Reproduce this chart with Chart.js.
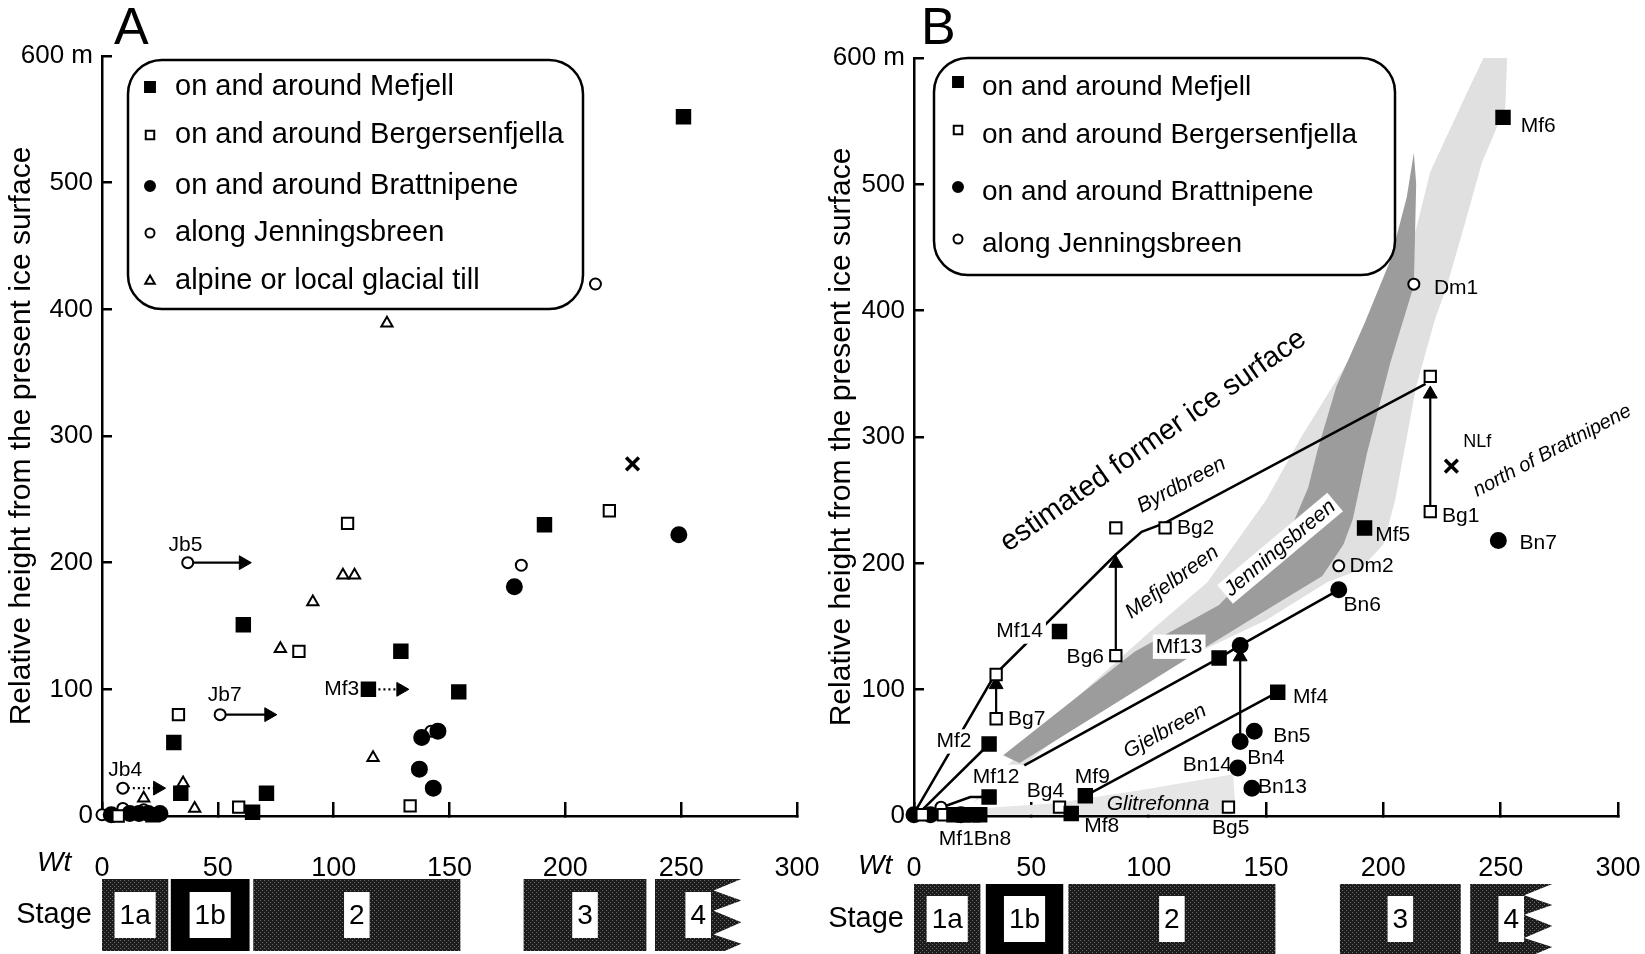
<!DOCTYPE html>
<html>
<head>
<meta charset="utf-8">
<script src="https://cdn.jsdelivr.net/npm/chart.js@4.4.1/dist/chart.umd.min.js"></script>
<style>
  html, body { margin: 0; padding: 0; background: #fff; width: 1645px; height: 954px; overflow: hidden; }
  canvas, .txt { position: absolute; }
  .txt { font-family: 'Liberation Sans', Arial, sans-serif; line-height: 1; color: #000; }
  .wt { font-style: italic; font-size: 28px; }
</style>
</head>
<body>
<canvas id="mainA" width="820" height="900" style="left:0;top:0"></canvas>
<canvas id="mainB" width="825" height="900" style="left:820px;top:0"></canvas>
<canvas id="stageA" width="820" height="78" style="left:0;top:876px"></canvas>
<canvas id="stageB" width="825" height="74" style="left:820px;top:880px"></canvas>
<div class="txt" style="left:114px;top:0;font-size:52px">A</div>
<div class="txt" style="left:921px;top:0;font-size:52px">B</div>
<div class="txt wt" style="left:37px;top:848px">Wt</div>
<div class="txt wt" style="left:858px;top:851px">Wt</div>
<script>
const FONT = "'Liberation Sans',Arial,sans-serif";

// оси
const xTicks = [0, 50, 100, 150, 200, 250, 300];
const yTicks = [0, 100, 200, 300, 400, 500, 600];

// ---------- панель A: [Wt, высота м] ----------
const mefjellA = [[251, 552], [191, 230], [61, 151], [129, 130], [115, 100], [154, 98], [31, 58], [34, 18], [71, 18], [65, 3], [22, 1]];
const bergersenA = [[106, 231], [219, 241], [85, 130], [33, 80], [59, 7], [133, 8], [7, 0]];
const brattnipeneA = [[249, 222], [178, 181], [138, 62], [145, 67], [137, 37], [143, 22], [4, 1], [12, 2], [16, 2], [20, 2], [25, 2]];
const jenningsA = [[213, 420], [181, 198], [37, 200], [51, 80], [9, 22], [0, 1], [9, 6], [18, 5], [142, 67]];
const tillA = [[123, 389], [104, 190], [109, 190], [91, 169], [77, 132], [117, 46], [35, 26], [18, 14], [40, 6]];
const crossA = [[229, 278]];
const arrowsA = [
  { from: [37, 200], to: [61, 200], dashed: false },
  { from: [51, 80], to: [72, 80], dashed: false },
  { from: [9, 22], to: [24, 22], dashed: true },
  { from: [115, 100], to: [129, 100], dashed: true },
];

// ---------- панель B ----------
const mefjellB = [[251, 553], [192, 228], [155, 98], [130, 125], [62, 146], [32, 57], [32, 15], [73, 16], [67, 2], [17, 1], [21, 1], [25, 1], [28, 1]];
const bergersenB = [[220, 348], [220, 241], [86, 228], [107, 228], [86, 127], [35, 112], [35, 77], [62, 7], [134, 7], [3.5, 1], [12.5, 1]];
const brattnipeneB = [[249, 218], [181, 179], [139, 135], [145, 67], [139, 59], [138, 38], [144, 22], [0, 1], [7, 1], [20, 1]];
const jenningsB = [[213, 421], [181, 198], [11.5, 7]];
const crossB = [[229, 277]];

const iceSurfaceLine = [[0, 2], [34.5, 112], [86, 207], [97, 225], [107, 232], [218, 342]];
const mf2Line = [[2, 2], [32, 57]];
const mf12Line = [[6, 3], [24, 15], [31, 15]];
const jenningsLine = [[47, 40], [130, 125], [139, 135], [181, 179]];
const gjelbreenLine = [[73, 16], [155, 98]];
const arrowsB = [
  { from: [35, 78], to: [35, 104] },
  { from: [86, 127], to: [86, 200] },
  { from: [139, 59], to: [139, 126] },
  { from: [220, 241], to: [220, 334] },
];

// затенённые полосы ледников
const lightBand = [[25, 10], [45, 50], [70, 95], [100, 145], [125, 185], [150, 250], [165, 300], [185, 360], [200, 410], [212, 450], [220, 510], [235, 570], [246, 613], [253, 613], [252, 561], [242, 517], [234, 464], [227, 419], [222, 393], [214, 340], [209, 290], [205, 250], [200, 215], [190, 195], [176, 185], [150, 155], [116, 125], [70, 75], [40, 30]];
const darkBand = [[38, 48], [70, 95], [94, 130], [130, 167], [160, 225], [168, 260], [172, 290], [180, 340], [192, 390], [203, 440], [210, 490], [213, 525], [214, 500], [213, 420], [203, 359], [193, 287], [187, 235], [183, 215], [174, 190], [143, 155], [116, 124], [45, 42]];
const glitrefonnaBand = [[20, 1], [20, 5], [60, 10], [95, 20], [120, 28], [136, 33], [137, 5], [135, 1]];

// стадии
const stageNames = ["1a", "1b", "2", "3", "4"];
const stageStartA = [0, 29.7, 65.3, 182, 238.7];
const stageEndA = [28.6, 63.7, 154.7, 235, 276];
const stageStartB = [0, 30.6, 65.8, 181.5, 237];
const stageEndB = [28.3, 63.6, 154, 233, 272];

const legendLabels = ["on and around Mefjell", "on and around Bergersenfjella", "on and around Brattnipene", "along Jenningsbreen", "alpine or local glacial till"];

function pts(arr) {
  return arr.map((p) => ({ x: p[0], y: p[1] }));
}

function markerSet(arr, style, filled, r) {
  return {
    type: "scatter",
    data: pts(arr),
    pointStyle: style,
    pointRadius: r,
    pointBackgroundColor: filled ? "#000" : "#fff",
    pointBorderColor: "#000",
    pointBorderWidth: style === "crossRot" ? 3.5 : 2,
    clip: false,
    order: 0,
  };
}

function lineSet(arr) {
  return { type: "line", data: pts(arr), borderColor: "#000", borderWidth: 2.5, pointRadius: 0, fill: false, tension: 0, clip: false, order: 2 };
}

function arrowSet(a, rot) {
  return {
    type: "line",
    data: pts([a.from, a.to]),
    borderColor: "#000",
    borderWidth: 2.2,
    borderDash: a.dashed ? [2, 3] : [],
    pointRadius: [0, 8],
    pointStyle: "triangle",
    pointRotation: [0, rot],
    pointBackgroundColor: "#000",
    pointBorderColor: "#000",
    pointBorderWidth: 1,
    tension: 0,
    clip: false,
    order: 1,
  };
}

function bandSet(arr, color, order) {
  return { type: "line", data: pts(arr), borderWidth: 0, borderColor: "rgba(0,0,0,0)", backgroundColor: color, fill: "shape", pointRadius: 0, tension: 0, clip: false, order: order };
}

// подписи точек и ледников
function lab(text, x, y, o) {
  return Object.assign({ text, x, y, size: 21, italic: false, align: "center", rot: 0, bg: false }, o || {});
}

function labelPlugin(items) {
  return {
    id: "pointLabels",
    afterDatasetsDraw(chart) {
      const { ctx, scales } = chart;
      items.forEach((it) => {
        const px = scales.x.getPixelForValue(it.x);
        const py = scales.y.getPixelForValue(it.y);
        ctx.save();
        ctx.translate(px, py);
        if (it.rot) ctx.rotate((it.rot * Math.PI) / 180);
        ctx.font = (it.italic ? "italic " : "") + it.size + "px " + FONT;
        ctx.textAlign = it.align;
        ctx.textBaseline = "middle";
        if (it.bg) {
          const w = ctx.measureText(it.text).width;
          const x0 = it.align === "right" ? -w : it.align === "left" ? 0 : -w / 2;
          ctx.fillStyle = "#fff";
          ctx.fillRect(x0 - 3, -it.size * 0.58, w + 6, it.size * 1.16);
        }
        ctx.fillStyle = "#000";
        ctx.fillText(it.text, 0, 0);
        ctx.restore();
      });
    },
  };
}

// легенда в скруглённой рамке
function legendPlugin(box, rows, markerX, textX, font, markers, shift) {
  return {
    id: "boxLegend",
    afterDraw(chart) {
      const ctx = chart.ctx;
      ctx.save();
      ctx.lineWidth = 2.5;
      ctx.strokeStyle = "#000";
      ctx.beginPath();
      ctx.roundRect(box.x, box.y, box.w, box.h, 34);
      ctx.stroke();
      markers.forEach((m, i) => {
        ctx.lineWidth = 2;
        ctx.fillStyle = m.filled ? "#000" : "#fff";
        ctx.strokeStyle = "#000";
        Chart.helpers.drawPoint(ctx, { pointStyle: m.style, radius: m.r, borderWidth: 2, rotation: 0 }, markerX, rows[i] + shift);
        ctx.fillStyle = "#000";
        ctx.font = font;
        ctx.textAlign = "left";
        ctx.textBaseline = "middle";
        ctx.fillText(legendLabels[i], textX, rows[i]);
      });
      ctx.restore();
    },
  };
}

function scalesFor(yWidth) {
  return {
    x: {
      type: "linear",
      min: 0,
      max: 300,
      afterBuildTicks: (s) => { s.ticks = xTicks.map((v) => ({ value: v })); },
      afterFit: (s) => { s.height = 70; s.paddingLeft = 0; s.paddingRight = 0; },
      border: { display: true, color: "#000", width: 2.5 },
      grid: { drawOnChartArea: false, tickLength: -14, color: "#000", lineWidth: 2.5 },
      ticks: { color: "#000", padding: 50, maxRotation: 0, autoSkip: false, font: { family: FONT, size: 27 } },
    },
    y: {
      type: "linear",
      min: 0,
      max: 600,
      afterBuildTicks: (s) => { s.ticks = yTicks.map((v) => ({ value: v })); },
      afterFit: (s) => { s.width = yWidth; s.paddingTop = 0; s.paddingBottom = 0; },
      border: { display: true, color: "#000", width: 2.5 },
      grid: { drawOnChartArea: false, tickLength: -10, color: "#000", lineWidth: 2.5 },
      ticks: { color: "#000", padding: 19, font: { family: FONT, size: 26 }, callback: (v) => (v === 600 ? "600 m" : v) },
      title: { display: true, text: "Relative height from the present ice surface", color: "#000", font: { family: FONT, size: 30 }, padding: { top: 4, bottom: 0 } },
    },
  };
}

const baseOptions = (pad, yWidth) => ({
  responsive: false,
  animation: false,
  events: [],
  layout: { padding: pad },
  scales: scalesFor(yWidth),
  plugins: { legend: { display: false }, tooltip: { enabled: false } },
});

// ---------- график A ----------
const labelsA = [
  lab("Jb5", 36, 214),
  lab("Jb7", 53, 95),
  lab("Jb4", 10, 36),
  lab("Mf3", 111, 100, { align: "right" }),
];

new Chart(document.getElementById("mainA"), {
  type: "scatter",
  data: {
    datasets: [
      markerSet(mefjellA, "rect", true, 9.5),
      markerSet(bergersenA, "rect", false, 8),
      markerSet(brattnipeneA, "circle", true, 7.5),
      markerSet(jenningsA, "circle", false, 5.5),
      markerSet(tillA, "triangle", false, 6.5),
      markerSet(crossA, "crossRot", false, 9),
      ...arrowsA.map((a) => arrowSet(a, 90)),
    ],
  },
  options: baseOptions({ top: 56, right: 23, bottom: 14, left: 0 }, 102),
  plugins: [
    labelPlugin(labelsA),
    legendPlugin({ x: 128, y: 60, w: 455, h: 249 }, [87, 135, 186, 233, 281], 150, 175, "29px " + FONT, [
      { style: "rect", filled: true, r: 7 },
      { style: "rect", filled: false, r: 6 },
      { style: "circle", filled: true, r: 5 },
      { style: "circle", filled: false, r: 4.5 },
      { style: "triangle", filled: false, r: 5.5 },
    ], 0),
  ],
});

// ---------- график B ----------
const labelsB = [
  lab("Mf6", 266, 546), lab("Dm1", 231, 418), lab("NLf", 240, 296, { size: 18 }),
  lab("Bg1", 233, 237), lab("Bn7", 266, 216), lab("Mf5", 204, 222), lab("Dm2", 195, 198),
  lab("Bn6", 191, 167), lab("Mf4", 169, 94), lab("Bn5", 161, 63), lab("Bn4", 150, 46),
  lab("Bn14", 125, 40), lab("Bn13", 157, 23), lab("Bg5", 135, -10), lab("Mf8", 80, -8),
  lab("Mf1Bn8", 26, -18), lab("Mf9", 76, 31), lab("Bg4", 56, 20), lab("Mf12", 35, 31, { bg: true }),
  lab("Mf2", 17, 59, { bg: true }), lab("Bg7", 48, 77), lab("Mf14", 45, 146, { bg: true }),
  lab("Bg6", 73, 126), lab("Mf13", 113, 134, { bg: true }), lab("Bg2", 120, 228),
  lab("Glitrefonna", 104, 9, { italic: true }),
  lab("estimated former ice surface", 102, 297, { size: 29, rot: -35 }),
  lab("Byrdbreen", 114, 262, { italic: true, rot: -28 }),
  lab("Mefjelbreen", 110, 185, { italic: true, rot: -36 }),
  lab("Jenningsbreen", 156, 212, { italic: true, rot: -40, bg: true }),
  lab("Gjelbreen", 107, 67, { italic: true, rot: -29 }),
  lab("north of Brattnipene", 272, 289, { italic: true, rot: -28, size: 20 }),
];

new Chart(document.getElementById("mainB"), {
  type: "scatter",
  data: {
    datasets: [
      markerSet(mefjellB, "rect", true, 9.5),
      markerSet(bergersenB, "rect", false, 8),
      markerSet(brattnipeneB, "circle", true, 7.5),
      markerSet(jenningsB, "circle", false, 5.5),
      markerSet(crossB, "crossRot", false, 9),
      ...arrowsB.map((a) => arrowSet(a, 0)),
      lineSet(iceSurfaceLine),
      lineSet(mf2Line),
      lineSet(mf12Line),
      lineSet(jenningsLine),
      lineSet(gjelbreenLine),
      bandSet(glitrefonnaBand, "#e6e6e6", 5),
      bandSet(darkBand, "#9c9c9c", 4),
      bandSet(lightBand, "#e0e0e0", 6),
    ],
  },
  options: baseOptions({ top: 58, right: 27, bottom: 14, left: 0 }, 94),
  plugins: [
    labelPlugin(labelsB),
    legendPlugin({ x: 114, y: 58, w: 461, h: 217 }, [87, 135, 192, 244], 138, 162, "28px " + FONT, [
      { style: "rect", filled: true, r: 7 },
      { style: "rect", filled: false, r: 6 },
      { style: "circle", filled: true, r: 5 },
      { style: "circle", filled: false, r: 4.5 },
    ], -5),
  ],
});

// ---------- полосы стадий ----------
function stipple() {
  const c = document.createElement("canvas");
  c.width = 4;
  c.height = 4;
  const g = c.getContext("2d");
  g.fillStyle = "#1c1c1c";
  g.fillRect(0, 0, 4, 4);
  g.fillStyle = "#6e6e6e";
  g.fillRect(0, 0, 1, 1);
  g.fillRect(2, 2, 1, 1);
  return g.createPattern(c, "repeat");
}
const stipplePattern = stipple();

// прямоугольник стадии; у последней стадии зубчатый правый край
function stageShape(s, e, notched) {
  if (!notched) return [[s, 0], [s, 1], [e, 1], [e, 0]];
  const d = 12;
  return [[s, 0], [s, 1], [e, 1], [e - d, 0.84], [e, 0.7], [e - d, 0.56], [e, 0.4], [e - d, 0.23], [e, 0.1], [e - d * 0.6, 0]];
}

function stageLabelPlugin(starts, ends) {
  return {
    id: "stageLabels",
    afterDatasetsDraw(chart) {
      const { ctx, scales } = chart;
      stageNames.forEach((name, i) => {
        const cx = scales.x.getPixelForValue((starts[i] + ends[i]) / 2);
        const cy = scales.y.getPixelForValue(0.5);
        ctx.save();
        ctx.font = "28px " + FONT;
        const w = ctx.measureText(name).width + 10;
        ctx.fillStyle = "#fff";
        ctx.fillRect(cx - w / 2, cy - 23, w, 46);
        ctx.fillStyle = "#000";
        ctx.textAlign = "center";
        ctx.textBaseline = "middle";
        ctx.fillText(name, cx, cy + 1);
        ctx.restore();
      });
    },
  };
}

function makeStage(id, starts, ends, yWidth, pad) {
  return new Chart(document.getElementById(id), {
    type: "scatter",
    data: {
      datasets: stageNames.map((name, i) => ({
        type: "line",
        label: name,
        data: pts(stageShape(starts[i], ends[i], i === stageNames.length - 1)),
        backgroundColor: i === 1 ? "#000" : stipplePattern,
        borderWidth: 0,
        borderColor: "rgba(0,0,0,0)",
        fill: "shape",
        pointRadius: 0,
        tension: 0,
      })),
    },
    options: {
      responsive: false,
      animation: false,
      events: [],
      layout: { padding: pad },
      scales: {
        x: { type: "linear", min: 0, max: 300, display: false },
        y: {
          type: "linear",
          min: 0,
          max: 1,
          afterBuildTicks: (s) => { s.ticks = [{ value: 0.5 }]; },
          afterFit: (s) => { s.width = yWidth; s.paddingTop = 0; s.paddingBottom = 0; },
          grid: { display: false, drawTicks: false },
          border: { display: false },
          ticks: { color: "#000", padding: 10, font: { family: FONT, size: 29 }, callback: () => "Stage" },
        },
      },
      plugins: { legend: { display: false }, tooltip: { enabled: false } },
    },
    plugins: [stageLabelPlugin(starts, ends)],
  });
}

makeStage("stageA", stageStartA, stageEndA, 102, { top: 3, right: 23, bottom: 3, left: 0 });
makeStage("stageB", stageStartB, stageEndB, 94, { top: 4, right: 27, bottom: 0, left: 0 });
</script>
</body>
</html>
